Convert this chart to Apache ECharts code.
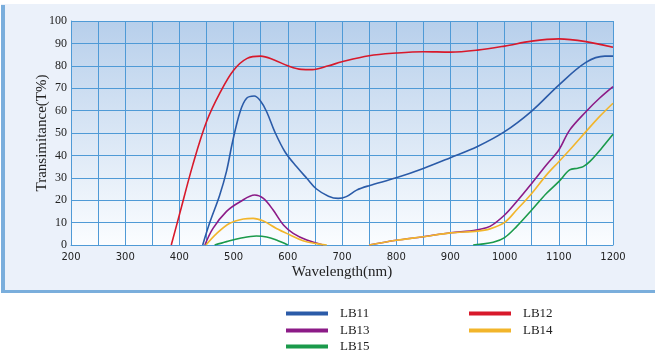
<!DOCTYPE html>
<html>
<head>
<meta charset="utf-8">
<script src="https://cdn.jsdelivr.net/npm/echarts@6/dist/echarts.min.js"></script>
<style>
    html, body { margin: 0; padding: 0; background: #fff; }
    #chart { width: 660px; height: 351px; }
</style>
</head>
<body>
<div id="chart"></div>
<script>
// 数据 (wavelength nm / transmittance %), null = 断开
const lb11Wl = [443, 456, 474, 487, 498, 512, 524, 538, 549, 561, 576, 595, 616, 635, 653, 675, 693, 708, 727, 750, 800, 850, 900, 950, 1000, 1050, 1100, 1150, 1185, 1200];
const lb11T = [0, 10, 22, 33, 46, 59.5, 65.5, 66.5, 64.5, 59.5, 50.5, 41.5, 35, 29.8, 25, 21.8, 20.8, 21.6, 24.5, 26.5, 30, 34.2, 39, 44, 50.6, 59.8, 71.4, 81.5, 84.3, 84.3];

const lb12Wl = [385, 400, 425, 450, 475, 500, 525, 550, 575, 600, 625, 645, 675, 700, 750, 800, 850, 900, 950, 1000, 1050, 1100, 1150, 1200];
const lb12T = [0, 13.5, 36, 55, 68, 78, 83.3, 84.3, 82.6, 80, 78.4, 78.3, 80, 81.8, 84.5, 85.7, 86.3, 86.1, 87, 88.8, 91, 92, 90.8, 88.3];

const lb13Wl = [447, 462, 487, 512, 539, 555, 573, 592, 610, 635, 665, null, 750, 800, 850, 900, 936, 950, 973, 1000, 1022, 1050, 1077, 1100, 1120, 1150, 1175, 1200];
const lb13T = [0, 7.4, 15, 19.3, 22.3, 20.8, 15.6, 8.9, 5.2, 2.2, 0, null, 0, 2.1, 3.7, 5.5, 6.2, 6.8, 8.3, 13.4, 19.3, 27.5, 35.7, 42.4, 51.3, 59.5, 65.5, 70.7];

const lb14Wl = [449, 469, 493, 518, 536, 555, 579, 604, 628, 653, 672, null, 750, 800, 850, 900, 950, 973, 1000, 1022, 1050, 1077, 1100, 1120, 1150, 1175, 1200];
const lb14T = [0, 5.2, 9.7, 11.6, 11.9, 10.7, 7.4, 4.5, 1.9, 0.6, 0, null, 0, 2.1, 3.7, 5.4, 6.2, 7.2, 10.1, 15.6, 23, 31.2, 37.2, 42.4, 50.6, 57.3, 63.3];

const lb15Wl = [465, 487, 512, 542, 561, 579, 600, null, 942, 954, 979, 1000, 1022, 1050, 1077, 1100, 1120, 1135, 1145, 1157, 1179, 1200];
const lb15T = [0, 1.5, 3, 4, 3.6, 2.2, 0, null, 0, 0.3, 1.2, 3.3, 8.2, 15.6, 23, 28.3, 33.5, 34.3, 35, 37.2, 43.2, 49.4];

const names = ['LB11', 'LB12', 'LB13', 'LB14', 'LB15'];
const colors = ['#2b5ba8', '#d8192b', '#8c1b87', '#f2b52b', '#1b9a4b'];
const wls = [lb11Wl, lb12Wl, lb13Wl, lb14Wl, lb15Wl];
const ts = [lb11T, lb12T, lb13T, lb14T, lb15T];

const toPairs = (wl, t) => wl.map((w, i) => (t[i] == null ? ['-', '-'] : [w, t[i]]));

const gridColor = '#4f9ad6';
const serif = '"Liberation Serif", "DejaVu Serif", serif';

// 图例位置
const legendPos = [
    { left: 286, top: 307 },
    { left: 469, top: 307 },
    { left: 286, top: 324 },
    { left: 469, top: 324 },
    { left: 286, top: 340 },
];

const myEcharts = echarts.init(document.getElementById('chart'));
const options = {
    animation: false,
    graphic: [
        // 外框背景
        { type: 'rect', shape: { x: 1, y: 4, width: 654, height: 289 }, style: { fill: '#ebf1fa' }, z: -10 },
        { type: 'rect', shape: { x: 1, y: 5, width: 4, height: 288 }, style: { fill: '#7aaedc' }, z: -9 },
        { type: 'rect', shape: { x: 1, y: 290, width: 654, height: 3 }, style: { fill: '#7aaedc' }, z: -9 },
    ],
    grid: {
        left: 71,
        right: 47,
        top: 21,
        bottom: 106,
        show: true,
        borderWidth: 0,
        backgroundColor: new echarts.graphic.LinearGradient(0, 0, 0, 1, [
            { offset: 0, color: '#b7cfeb' },
            { offset: 1, color: '#fbfdff' },
        ]),
    },
    legend: names.map((n, i) => ({
        data: [n],
        left: legendPos[i].left,
        top: legendPos[i].top,
        padding: 0,
        icon: 'rect',
        itemWidth: 42,
        itemHeight: 4,
        selectedMode: false,
        textStyle: { fontFamily: serif, fontSize: 13, color: '#222', padding: [0, 0, 0, 7] },
    })),
    xAxis: {
        type: 'value',
        min: 200,
        max: 1200,
        interval: 100,
        name: 'Wavelength(nm)',
        nameLocation: 'middle',
        nameGap: 20,
        nameMoveOverlap: false,
        nameTextStyle: { fontFamily: serif, fontSize: 15, color: '#222' },
        axisLine: { show: true, lineStyle: { color: gridColor } },
        axisTick: { show: false },
        axisLabel: { fontFamily: '"DejaVu Sans", sans-serif', fontSize: 10, color: '#222', margin: 7, formatter: v => String(v) },
        splitLine: { show: true, lineStyle: { color: gridColor, width: 1 } },
        minorTick: { show: false, splitNumber: 2 },
        minorSplitLine: { show: true, lineStyle: { color: gridColor, width: 1 } },
    },
    yAxis: {
        type: 'value',
        min: 0,
        max: 100,
        interval: 10,
        name: 'Transimitance(T%)',
        nameLocation: 'middle',
        nameGap: 21,
        nameMoveOverlap: false,
        nameTextStyle: { fontFamily: serif, fontSize: 15, color: '#222' },
        axisLine: { show: true, lineStyle: { color: gridColor } },
        axisTick: { show: false },
        axisLabel: { fontFamily: serif, fontSize: 12, color: '#222', margin: 4 },
        splitLine: { show: true, lineStyle: { color: gridColor, width: 1 } },
    },
    series: names.map((n, i) => ({
        name: n,
        type: 'line',
        data: toPairs(wls[i], ts[i]),
        color: colors[i],
        symbol: 'none',
        smooth: 0.35,
        connectNulls: false,
        lineStyle: { width: 1.6, color: colors[i] },
    })),
};
myEcharts.setOption(options);
</script>
</body>
</html>
